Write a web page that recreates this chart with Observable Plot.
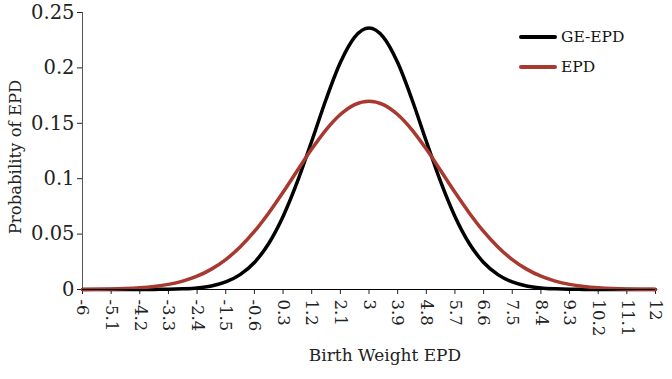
<!DOCTYPE html>
<html>
<head>
<meta charset="utf-8">
<script src="https://cdn.jsdelivr.net/npm/d3@7"></script>
<script src="https://cdn.jsdelivr.net/npm/@observablehq/plot@0.6"></script>
<style>
  html, body { margin: 0; padding: 0; background: #fff; }
  #wrap { position: relative; width: 672px; height: 379px; font-family: "DejaVu Serif", "Liberation Serif", serif; }
  .legend { position: absolute; left: 519px; top: 22px; font-size: 15.5px; color: #111; }
  .legend .row { display: flex; align-items: center; height: 30px; }
  .legend .sw { width: 38px; height: 4px; margin-right: 4px; border-radius: 2px; }
</style>
</head>
<body>
<div id="wrap"></div>
<script>
const birthWeight = [-6, -5.55, -5.1, -4.65, -4.2, -3.75, -3.3, -2.85, -2.4, -1.95, -1.5, -1.05, -0.6, -0.15, 0.3, 0.75, 1.2, 1.65, 2.1, 2.55, 3, 3.45, 3.9, 4.35, 4.8, 5.25, 5.7, 6.15, 6.6, 7.05, 7.5, 7.95, 8.4, 8.85, 9.3, 9.75, 10.2, 10.65, 11.1, 11.55, 12];
const geEpd = [0, 0, 0, 0, 0, 0.0001, 0.0002, 0.0006, 0.0014, 0.0032, 0.0068, 0.0134, 0.0244, 0.0415, 0.0659, 0.0973, 0.1338, 0.1715, 0.2048, 0.2278, 0.236, 0.2278, 0.2048, 0.1715, 0.1338, 0.0973, 0.0659, 0.0415, 0.0244, 0.0134, 0.0068, 0.0032, 0.0014, 0.0006, 0.0002, 0.0001, 0, 0, 0, 0, 0];
const epd = [0.0001, 0.0002, 0.0004, 0.0008, 0.0015, 0.0027, 0.0046, 0.0076, 0.0120, 0.0184, 0.0270, 0.0384, 0.0524, 0.0691, 0.0877, 0.1074, 0.1267, 0.1441, 0.1579, 0.1669, 0.170, 0.1669, 0.1579, 0.1441, 0.1267, 0.1074, 0.0877, 0.0691, 0.0524, 0.0384, 0.0270, 0.0184, 0.0120, 0.0076, 0.0046, 0.0027, 0.0015, 0.0008, 0.0004, 0.0002, 0.0001];
const xTicks = [-6, -5.1, -4.2, -3.3, -2.4, -1.5, -0.6, 0.3, 1.2, 2.1, 3, 3.9, 4.8, 5.7, 6.6, 7.5, 8.4, 9.3, 10.2, 11.1, 12];
const yTicks = [0, 0.05, 0.1, 0.15, 0.2, 0.25];
const seriesNames = ["GE-EPD", "EPD"];
const seriesColors = ["#000000", "#a8392f"];
const xTitle = "Birth Weight EPD";
const yTitle = "Probability of EPD";

const rows = [];
birthWeight.forEach((x, i) => {
  rows.push({x, y: geEpd[i], s: seriesNames[0]});
});
birthWeight.forEach((x, i) => {
  rows.push({x, y: epd[i], s: seriesNames[1]});
});

const chart = Plot.plot({
  width: 672,
  height: 379,
  marginLeft: 82,
  marginRight: 17,
  marginTop: 12,
  marginBottom: 90,
  style: {fontFamily: "'DejaVu Serif', 'Liberation Serif', serif", fontSize: "17px", color: "#222", background: "#fff"},
  x: {domain: [-6, 12]},
  y: {domain: [0, 0.25]},
  color: {domain: seriesNames, range: seriesColors},
  marks: [
    Plot.axisY({ticks: yTicks, tickFormat: d => String(d), tickSize: 5, tickPadding: 3, label: null, fontSize: 19.5}),
    Plot.axisX({ticks: xTicks, tickFormat: d => String(d), tickSize: 5, tickPadding: 5, tickRotate: 90, label: null, fontSize: 16.5}),
    Plot.text([yTitle], {frameAnchor: "left", textAnchor: "middle", lineAnchor: "middle", rotate: -90, dx: -67, dy: 6, fontSize: 16.5, fill: "#222"}),
    Plot.text([xTitle], {frameAnchor: "bottom", textAnchor: "middle", lineAnchor: "middle", dx: 16, dy: 66, fontSize: 17, fill: "#222"}),
    Plot.ruleX([-6], {stroke: "#555", strokeWidth: 1}),
    Plot.line(rows, {x: "x", y: "y", z: "s", stroke: "s", strokeWidth: 3.5, curve: "monotone-x"}),
    Plot.ruleY([0], {stroke: "#000", strokeWidth: 1})
  ]
});

const wrap = document.getElementById("wrap");
wrap.appendChild(chart);

const legend = document.createElement("div");
legend.className = "legend";
seriesNames.forEach((name, i) => {
  const row = document.createElement("div");
  row.className = "row";
  const sw = document.createElement("div");
  sw.className = "sw";
  sw.style.background = seriesColors[i];
  const t = document.createElement("span");
  t.textContent = name;
  row.appendChild(sw);
  row.appendChild(t);
  legend.appendChild(row);
});
wrap.appendChild(legend);
</script>
</body>
</html>
